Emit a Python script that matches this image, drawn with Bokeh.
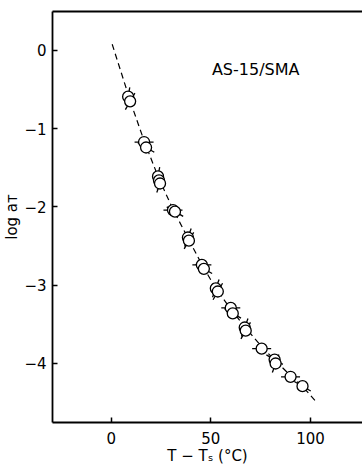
from bokeh.plotting import figure
from bokeh.models import Range1d, LinearAxis, FixedTicker, Label
from bokeh.embed import file_html
from bokeh.resources import INLINE

# measured data: T - Ts (°C) and log aT
t_minus_ts = [8.5, 9.5, 16.5, 17.5, 23.5, 24.0, 24.5, 31.0, 32.0, 38.5, 39.0,
              45.5, 46.5, 52.5, 53.5, 60.0, 61.0, 67.0, 67.5, 75.5, 82.0, 82.5,
              90.0, 96.0]
log_at = [-0.59, -0.65, -1.17, -1.24, -1.61, -1.66, -1.70, -2.04, -2.06, -2.39,
          -2.43, -2.74, -2.79, -3.04, -3.08, -3.29, -3.36, -3.54, -3.58, -3.81,
          -3.95, -4.00, -4.17, -4.29]
# flag orientation (degrees) of each symbol
flag_angle = [80, 60, 0, -30, 80, 80, 70, 0, -30, 70, 60, 0, -30, 70, 60, 0,
              -30, 70, 60, 0, -30, 70, 0, -30]

# dashed fit curve
fit_x = [0.5, 10, 17, 24, 31, 39, 46, 53, 61, 68, 76, 83, 91, 97, 103.5]
fit_y = [0.08, -0.68, -1.19, -1.64, -2.03, -2.42, -2.76, -3.06, -3.34, -3.56,
         -3.80, -3.98, -4.18, -4.32, -4.51]

x_ticks = [0, 50, 100]
y_ticks = [0, -1, -2, -3, -4]
title_text = "AS-15/SMA"

FONT = "DejaVu Sans"

p = figure(width=362, height=467, output_backend="svg", toolbar_location=None,
           x_range=Range1d(-29.45, 126.1), y_range=Range1d(-4.754, 0.498),
           min_border_left=52, min_border_right=0, min_border_top=11,
           min_border_bottom=45, background_fill_color="white",
           border_fill_color="white", outline_line_color=None)
p.grid.visible = False

for ax, ticks in ((p.xaxis[0], x_ticks), (p.yaxis[0], y_ticks)):
    ax.ticker = FixedTicker(ticks=ticks)
    ax.minor_tick_line_color = None
    ax.major_tick_in = 5
    ax.major_tick_out = 0
    ax.major_tick_line_width = 1.5
    ax.axis_line_width = 1.8
    ax.axis_line_color = "black"
    ax.major_tick_line_color = "black"
    ax.major_label_text_font = FONT
    ax.major_label_text_font_size = "15px"
    ax.major_label_text_color = "black"
    ax.axis_label_text_font = FONT
    ax.axis_label_text_font_size = "15px"
    ax.axis_label_text_font_style = "normal"
    ax.axis_label_text_color = "black"

p.xaxis[0].axis_label = "T − Tₛ (°C)"
p.xaxis[0].major_label_standoff = 9
p.xaxis[0].axis_label_standoff = 0
p.yaxis[0].axis_label = "log aᴛ"
p.yaxis[0].major_label_standoff = 6
p.yaxis[0].axis_label_standoff = 0

top = LinearAxis(ticker=FixedTicker(ticks=[]), axis_line_width=1.8,
                 major_label_text_font_size="0px", minor_tick_line_color=None,
                 major_tick_line_color=None)
p.add_layout(top, "above")

p.line(fit_x, fit_y, line_color="black", line_width=1.2, line_dash="6 4")

p.scatter(t_minus_ts, log_at, marker="dash", size=19, angle=flag_angle,
          angle_units="deg", line_color="black", line_width=1.3)
p.scatter(t_minus_ts, log_at, marker="circle", size=11, fill_color="white",
          line_color="black", line_width=1.3)

p.add_layout(Label(x=72.5, y=-0.24, text=title_text, text_font=FONT,
                   text_font_size="16px", text_align="center",
                   text_baseline="middle", text_color="black"))

open("out.html", "w").write(file_html(p, INLINE))
